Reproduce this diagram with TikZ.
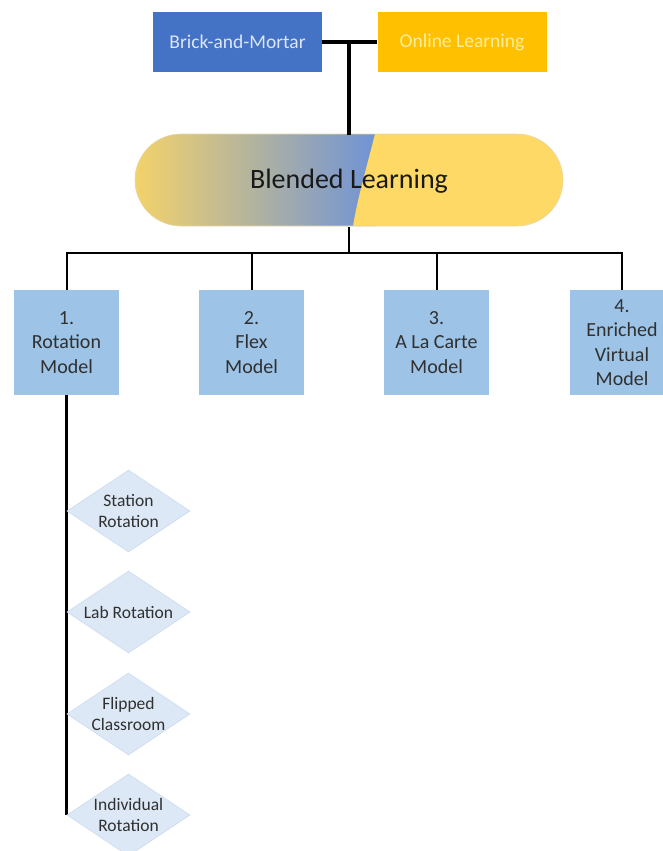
\documentclass[tikz,border=0pt]{standalone}
\usepackage{fontspec}
\setmainfont{Carlito}
\usetikzlibrary{shapes.geometric}
\definecolor{brick}{HTML}{4472C4}
\definecolor{brickText}{HTML}{DCE6F4}
\definecolor{online}{HTML}{FFC000}
\definecolor{onlineText}{HTML}{FFEE9E}
\definecolor{pillY}{HTML}{FFD966}
\definecolor{pillL}{HTML}{F3D26A}
\definecolor{pillB}{HTML}{6F93D6}
\definecolor{modelFill}{HTML}{9DC3E6}
\definecolor{diaFill}{HTML}{DCE8F5}
\definecolor{diaEdge}{HTML}{CCDCEE}
\definecolor{ink}{HTML}{303030}
\tikzset{
  topbox/.style={minimum width=169pt, minimum height=60pt, inner sep=0pt, font=\fontsize{19.5}{23}\selectfont},
  modelbox/.style={fill=modelFill, minimum width=105pt, minimum height=105pt, inner sep=0pt,
    align=center, text=ink, font=\fontsize{20}{24.3}\selectfont},
  dia/.style={diamond, shape aspect=1.5, fill=diaFill, draw=diaEdge, line width=0.6pt,
    minimum width=123pt, minimum height=82pt, inner sep=0pt},
  diatext/.style={align=center, text=ink, font=\fontsize{17.5}{21.5}\selectfont},
  link/.style={line width=2pt, black},
  thicklink/.style={line width=3.2pt, black}
}
\begin{document}
\begin{tikzpicture}[x=1pt, y=-1pt]
\useasboundingbox (0,0) rectangle (662,851);
\fill[white] (0,0) rectangle (662,851);

% the two source boxes
\node[topbox, fill=brick, text=brickText] (bm) at (237.5,42) {Brick-and-Mortar};
\node[topbox, fill=online, text=onlineText] (ol) at (462,42) {Online Learning};

% blended pill: gradient half and plain yellow half
\begin{scope}
  \clip[rounded corners=46pt] (135,134) rectangle (563,226);
  \shade[left color=pillL, right color=pillB] (135,134) rectangle (376,226);
  \fill[pillY] (375,134) .. controls (367,166) and (358,196) .. (353,226)
    -- (563,226) -- (563,134) -- cycle;
\end{scope}
\draw[pillY!70!gray!60, line width=0.6pt, rounded corners=46pt] (135,134) rectangle (563,226);
\node[minimum width=428pt, minimum height=92pt, inner sep=0pt,
  font=\fontsize{28}{32}\selectfont, text=black!90] (blend) at (349,181) {Blended Learning};

% joining connectors
\coordinate (jtop) at (349,42);
\draw[thicklink] (bm.east) -- (ol.west);
\draw[thicklink] (jtop) -- (blend.north);

% the four models
\node[modelbox] (m1) at (66.5,342.5) {1.\\Rotation\\Model};
\node[modelbox] (m2) at (251.5,342.5) {2.\\Flex\\Model};
\node[modelbox] (m3) at (436.5,342.5) {3.\\A La Carte\\Model};
\node[modelbox] (m4) at (622,342.5) {4.\\Enriched\\Virtual\\Model};

\coordinate (jbar) at (349,253);
\draw[link, line width=2.6pt] (blend.south) -- (jbar);
\draw[link] (m1.north) |- (jbar) -| (m4.north);
\draw[link] (m2.north) -- (m2.north |- jbar);
\draw[link] (m3.north) -- (m3.north |- jbar);

% rotation sub-models
\coordinate (rend) at (66.5,815);
\draw[link, line width=2.4pt] (m1.south) -- (rend);
\node[dia, label={[diatext]center:Station\\Rotation}] (d1) at (128.5,511) {};
\node[dia, label={[diatext]center:Lab Rotation}] (d2) at (128.5,612) {};
\node[dia, label={[diatext]center:Flipped\\Classroom}] (d3) at (128.5,714) {};
\node[dia, label={[diatext]center:Individual\\Rotation}] (d4) at (128.5,815) {};
\end{tikzpicture}
\end{document}
